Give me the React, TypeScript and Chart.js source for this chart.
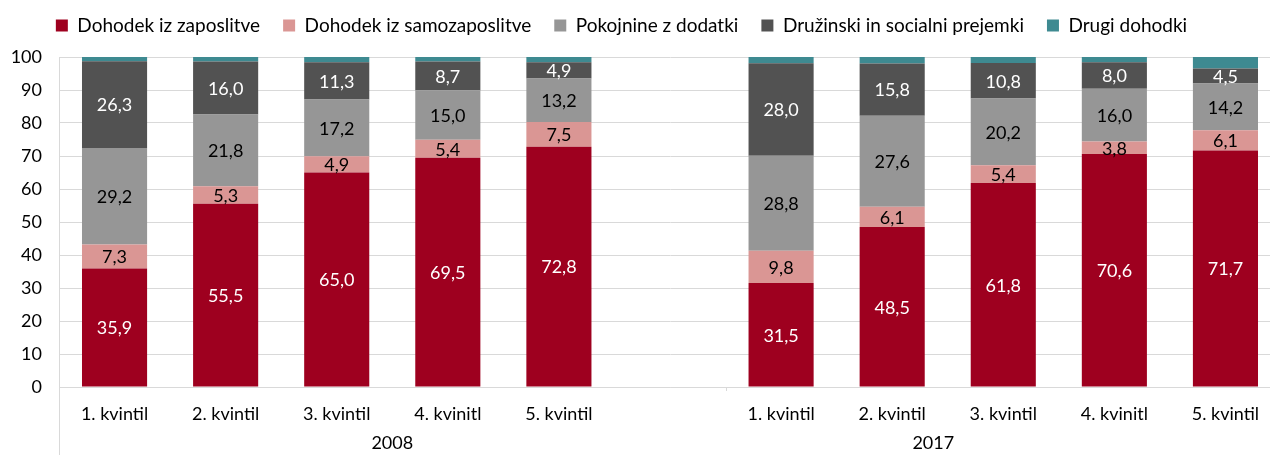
import React, { useEffect, useRef } from "react";
import { Chart, registerables } from "chart.js";

Chart.register(...registerables);

const categories = [
  "1. kvintil", "2. kvintil", "3. kvintil", "4. kvinitl", "5. kvintil", "",
  "1. kvintil", "2. kvintil", "3. kvintil", "4. kvinitl", "5. kvintil",
];
const groupLabels = ["2008", "2017"];
const seriesNames = [
  "Dohodek iz zaposlitve",
  "Dohodek iz samozaposlitve",
  "Pokojnine z dodatki",
  "Družinski in socialni prejemki",
  "Drugi dohodki",
];
const employment = [35.9, 55.5, 65.0, 69.5, 72.8, null, 31.5, 48.5, 61.8, 70.6, 71.7];
const selfEmployment = [7.3, 5.3, 4.9, 5.4, 7.5, null, 9.8, 6.1, 5.4, 3.8, 6.1];
const pensions = [29.2, 21.8, 17.2, 15.0, 13.2, null, 28.8, 27.6, 20.2, 16.0, 14.2];
const familySocial = [26.3, 16.0, 11.3, 8.7, 4.9, null, 28.0, 15.8, 10.8, 8.0, 4.5];
const otherIncome = [1.3, 1.4, 1.6, 1.4, 1.6, null, 1.9, 2.0, 1.8, 1.6, 3.5];
const yTicks = [0, 10, 20, 30, 40, 50, 60, 70, 80, 90, 100];

const colors = ["#9E001F", "#DA9694", "#969696", "#525252", "#3E8A91"];
const labelColors = ["#FFFFFF", "#000000", "#000000", "#FFFFFF", null];
const FONT = "Lato, 'Open Sans', sans-serif";

export default function App() {
  const ref = useRef<HTMLCanvasElement | null>(null);

  useEffect(() => {
    document.body.style.margin = "0";
    const canvas = ref.current;
    if (!canvas) return;

    const legendLayout = {
      id: "legendLayout",
      beforeInit(chart: any) {
        const legend = chart.legend;
        const origFit = legend.fit;
        legend.fit = function () {
          origFit.bind(legend)();
          this.height = 57;
        };
      },
      afterLayout(chart: any) {
        const legend = chart.legend;
        legend.top -= 7;
        legend.bottom -= 7;
        legend.left -= 19;
        legend.right -= 19;
        if (legend.adjustHitBoxes) legend.adjustHitBoxes();
      },
    };

    const valueLabels = {
      id: "valueLabels",
      afterDatasetsDraw(chart: any) {
        const ctx = chart.ctx;
        ctx.save();
        ctx.font = `18px ${FONT}`;
        ctx.textAlign = "center";
        ctx.textBaseline = "middle";
        chart.data.datasets.forEach((ds: any, di: number) => {
          const col = labelColors[di];
          if (!col) return;
          const meta = chart.getDatasetMeta(di);
          meta.data.forEach((el: any, i: number) => {
            const v = ds.data[i];
            if (v == null) return;
            ctx.fillStyle = col;
            ctx.fillText(v.toFixed(1).replace(".", ","), el.x, (el.y + el.base) / 2 + 1);
          });
        });
        ctx.restore();
      },
    };

    const groupAxis = {
      id: "groupAxis",
      afterDraw(chart: any) {
        const ctx = chart.ctx;
        const x = chart.scales.x;
        const area = chart.chartArea;
        ctx.save();
        ctx.strokeStyle = "#D9D9D9";
        ctx.lineWidth = 1;
        ctx.beginPath();
        ctx.moveTo(area.left + 0.5, area.bottom);
        ctx.lineTo(area.left + 0.5, chart.height);
        const sep = (x.getPixelForValue(5) + x.getPixelForValue(6)) / 2;
        ctx.moveTo(Math.round(sep) + 0.5, area.bottom);
        ctx.lineTo(Math.round(sep) + 0.5, area.bottom + 4);
        ctx.stroke();
        ctx.fillStyle = "#000";
        ctx.font = `18px ${FONT}`;
        ctx.textAlign = "center";
        ctx.textBaseline = "middle";
        const g1 = (area.left + sep) / 2;
        const p7 = x.getPixelForValue(7);
        const p8 = x.getPixelForValue(8);
        const g2 = p7 + 0.37 * (p8 - p7);
        ctx.fillText(groupLabels[0], g1, 443);
        ctx.fillText(groupLabels[1], g2, 443);
        ctx.restore();
      },
    };

    const series = [employment, selfEmployment, pensions, familySocial, otherIncome];
    const chart = new Chart(canvas, {
      type: "bar",
      data: {
        labels: categories,
        datasets: series.map((d, i) => ({
          label: seriesNames[i],
          data: d,
          backgroundColor: colors[i],
          borderWidth: 0,
          categoryPercentage: 0.586,
          barPercentage: 1,
        })),
      },
      options: {
        animation: false,
        responsive: false,
        maintainAspectRatio: false,
        layout: { padding: 0 },
        plugins: {
          legend: {
            position: "top",
            labels: {
              boxWidth: 12,
              boxHeight: 12,
              color: "#000",
              padding: 23,
              font: { family: FONT, size: 19 },
            },
          },
          tooltip: { enabled: false },
        },
        scales: {
          x: {
            stacked: true,
            grid: { display: false },
            border: { color: "#D9D9D9" },
            ticks: {
              color: "#000",
              font: { family: FONT, size: 18 },
              padding: 8,
              autoSkip: false,
              maxRotation: 0,
            },
            afterFit(scale: any) {
              scale.height = 68;
            },
          },
          y: {
            stacked: true,
            min: 0,
            max: 100,
            afterBuildTicks(scale: any) {
              scale.ticks = yTicks.map((v) => ({ value: v }));
            },
            grid: { color: "#D9D9D9", drawTicks: false },
            border: { color: "#D9D9D9" },
            ticks: {
              color: "#000",
              font: { family: FONT, size: 18 },
              padding: 17,
            },
            afterFit(scale: any) {
              scale.width = 59;
            },
          },
        },
      },
      plugins: [legendLayout, valueLabels, groupAxis],
    });
    return () => chart.destroy();
  }, []);

  return (
    <div style={{ width: 1270, height: 455, overflow: "hidden", position: "relative" }}>
      <canvas ref={ref} width={1281} height={455} style={{ display: "block" }} />
    </div>
  );
}
